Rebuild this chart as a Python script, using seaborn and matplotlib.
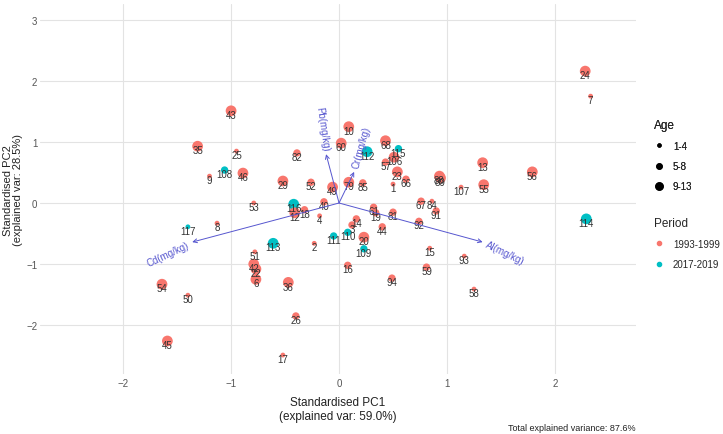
import numpy as np
import pandas as pd
import matplotlib
matplotlib.use('Agg')
import matplotlib.pyplot as plt
from matplotlib.lines import Line2D
import seaborn as sns


# PCA SCORES (standardised PC1 / PC2)

sample_id = [
    '43', '35', '25', '9', '108', '46', '10', '60', '112', '68',
    '115', '106', '57', '23', '66', '1', '88', '89', '82', '29',
    '52', '49', '79', '85', '53', '116', '40', '67', '84', '91',
    '61', '19', '81', '24', '7', '13', '56', '55', '107', '114',
    '117', '8', '54', '50', '45', '12', '18', '4', '14', '3',
    '44', '92', '113', '2', '111', '110', '20', '109', '15', '51',
    '42', '22', '6', '16', '59', '94', '36', '26', '17', '93',
    '58'
]

pc1 = [
    -1.00, -1.31, -0.95, -1.20, -1.06, -0.89, 0.09, 0.02, 0.26, 0.43,
    0.55, 0.51, 0.43, 0.54, 0.62, 0.50, 0.93, 0.94, -0.39, -0.52,
    -0.26, -0.06, 0.09, 0.22, -0.79, -0.42, -0.14, 0.76, 0.86, 0.90,
    0.32, 0.34, 0.50, 2.28, 2.33, 1.33, 1.79, 1.34, 1.13, 2.29,
    -1.40, -1.13, -1.64, -1.40, -1.59, -0.41, -0.32, -0.18, 0.16, 0.12,
    0.40, 0.74, -0.61, -0.23, -0.05, 0.08, 0.23, 0.23, 0.84, -0.78,
    -0.79, -0.77, -0.77, 0.08, 0.81, 0.49, -0.47, -0.40, -0.52, 1.16,
    1.25
]

pc2 = [
    1.51, 0.93, 0.85, 0.44, 0.54, 0.49, 1.25, 0.98, 0.84, 1.02,
    0.89, 0.75, 0.67, 0.51, 0.39, 0.31, 0.44, 0.41, 0.82, 0.36,
    0.34, 0.26, 0.34, 0.33, 0.00, -0.02, 0.02, 0.03, 0.03, -0.13,
    -0.07, -0.16, -0.15, 2.16, 1.75, 0.66, 0.51, 0.30, 0.26, -0.26,
    -0.39, -0.33, -1.33, -1.51, -2.26, -0.16, -0.11, -0.21, -0.26, -0.36,
    -0.39, -0.30, -0.66, -0.66, -0.54, -0.48, -0.56, -0.75, -0.74, -0.80,
    -1.00, -1.08, -1.25, -1.02, -1.05, -1.23, -1.30, -1.85, -2.49, -0.87,
    -1.41
]

# period code: R = 1993-1999, C = 2017-2019
period_code = [
    'R', 'R', 'R', 'R', 'C', 'R', 'R', 'R', 'C', 'R',
    'C', 'R', 'R', 'R', 'R', 'R', 'R', 'R', 'R', 'R',
    'R', 'R', 'R', 'R', 'R', 'C', 'R', 'R', 'R', 'R',
    'R', 'R', 'R', 'R', 'R', 'R', 'R', 'R', 'R', 'C',
    'C', 'R', 'R', 'R', 'R', 'R', 'R', 'R', 'R', 'R',
    'R', 'R', 'C', 'R', 'C', 'C', 'R', 'C', 'R', 'R',
    'R', 'R', 'R', 'R', 'R', 'R', 'R', 'R', 'R', 'R',
    'R'
]

# age class: S = 1-4, M = 5-8, L = 9-13
age_code = [
    'L', 'L', 'S', 'S', 'M', 'L', 'L', 'L', 'L', 'L',
    'M', 'L', 'M', 'L', 'M', 'S', 'L', 'L', 'M', 'L',
    'M', 'L', 'L', 'M', 'S', 'L', 'M', 'M', 'S', 'M',
    'M', 'M', 'M', 'L', 'S', 'L', 'L', 'L', 'S', 'L',
    'S', 'S', 'L', 'S', 'L', 'L', 'M', 'S', 'M', 'M',
    'M', 'M', 'L', 'S', 'M', 'M', 'L', 'M', 'S', 'S',
    'L', 'L', 'L', 'M', 'M', 'M', 'L', 'M', 'S', 'S',
    'S'
]

period_names = {'R': '1993-1999', 'C': '2017-2019'}
age_names = {'S': '1-4', 'M': '5-8', 'L': '9-13'}

# VARIABLE LOADINGS (arrows)

var_names = ['Pb(mg/kg)', 'Cr(mg/kg)', 'Cd(mg/kg)', 'Al(mg/kg)']
load_pc1 = [-0.12, 0.14, -1.36, 1.33]
load_pc2 = [0.80, 0.51, -0.64, -0.64]


scores = pd.DataFrame({
    'Sample': sample_id,
    'PC1': pc1,
    'PC2': pc2,
    'Period': [period_names[p] for p in period_code],
    'Age': [age_names[a] for a in age_code],
})

period_colors = {'1993-1999': '#F8766D', '2017-2019': '#00BFC4'}
age_sizes = {'1-4': 12, '5-8': 28, '9-13': 60}
arrow_color = '#5656cf'

sns.set_theme(style='white')
plt.rcParams['font.family'] = ['Liberation Sans', 'DejaVu Sans']

fig = plt.figure(figsize=(7.23, 4.35), dpi=100)
ax = fig.add_axes([0.0553, 0.138, 0.8243, 0.8506])

sns.scatterplot(
    data=scores,
    x='PC1',
    y='PC2',
    hue='Period',
    size='Age',
    palette=period_colors,
    sizes=age_sizes,
    linewidth=0,
    legend=False,
    ax=ax,
    zorder=3
)

for _, row in scores.iterrows():
    ax.annotate(
        row['Sample'],
        (row['PC1'], row['PC2']),
        xytext=(0, -3),
        textcoords='offset points',
        ha='center',
        va='center',
        fontsize=7,
        color='#333333',
        zorder=4
    )

for name, vx, vy in zip(var_names, load_pc1, load_pc2):

    ax.annotate(
        '',
        xy=(vx, vy),
        xytext=(0, 0),
        arrowprops=dict(
            arrowstyle='->',
            color=arrow_color,
            lw=0.7,
            shrinkA=0,
            shrinkB=0,
            mutation_scale=7
        ),
        zorder=5
    )

    angle = np.degrees(np.arctan(vy / vx))
    direction = np.sign(vx)
    ox = 3 * direction * np.cos(np.radians(angle))
    oy = 3 * direction * np.sin(np.radians(angle))

    ax.annotate(
        name,
        (vx, vy),
        xytext=(ox, oy),
        textcoords='offset points',
        rotation=angle,
        rotation_mode='anchor',
        ha='left' if vx > 0 else 'right',
        va='center',
        fontsize=7,
        color=arrow_color,
        zorder=5
    )

ax.set_xlim(-2.77, 2.75)
ax.set_ylim(-2.80, 3.26)
ax.set_xticks([-2, -1, 0, 1, 2])
ax.set_yticks([-2, -1, 0, 1, 2, 3])
ax.grid(True, color='#e3e3e3', linewidth=0.8)
ax.set_axisbelow(True)

for spine in ax.spines.values():
    spine.set_visible(False)

ax.tick_params(axis='both', length=0, labelsize=7, labelcolor='#555555', pad=3)
ax.tick_params(axis='y', pad=2)

ax.set_xlabel(
    'Standardised PC1\n(explained var: 59.0%)',
    fontsize=8.5,
    color='#222222',
    labelpad=6
)
ax.set_ylabel('')

fig.text(
    13 / 723,
    0.563,
    'Standardised PC2\n(explained var: 28.5%)',
    rotation=90,
    ha='center',
    va='center',
    multialignment='center',
    linespacing=1.05,
    fontsize=8,
    color='#222222'
)

# LEGENDS

age_handles = [
    Line2D([], [], marker='o', linestyle='', color='black', markersize=ms)
    for ms in [2.2, 3.8, 5.2]
]

age_legend = fig.legend(
    age_handles,
    ['1-4', '5-8', '9-13'],
    title='Age',
    loc='upper left',
    bbox_to_anchor=(0.893, 0.745),
    frameon=False,
    fontsize=7,
    title_fontsize=8.5,
    alignment='left',
    handlelength=1.0,
    handletextpad=0.9,
    labelspacing=1.05
)

period_handles = [
    Line2D([], [], marker='o', linestyle='', color=period_colors[p], markersize=3)
    for p in ['1993-1999', '2017-2019']
]

fig.legend(
    period_handles,
    ['1993-1999', '2017-2019'],
    title='Period',
    loc='upper left',
    bbox_to_anchor=(0.893, 0.52),
    frameon=False,
    fontsize=7,
    title_fontsize=8.5,
    alignment='left',
    handlelength=1.0,
    handletextpad=0.9,
    labelspacing=1.05
)

fig.add_artist(age_legend)

fig.text(
    0.879,
    0.016,
    'Total explained variance: 87.6%',
    ha='right',
    va='center',
    fontsize=6.5,
    color='#222222'
)

fig.savefig('out.png', dpi=100)
